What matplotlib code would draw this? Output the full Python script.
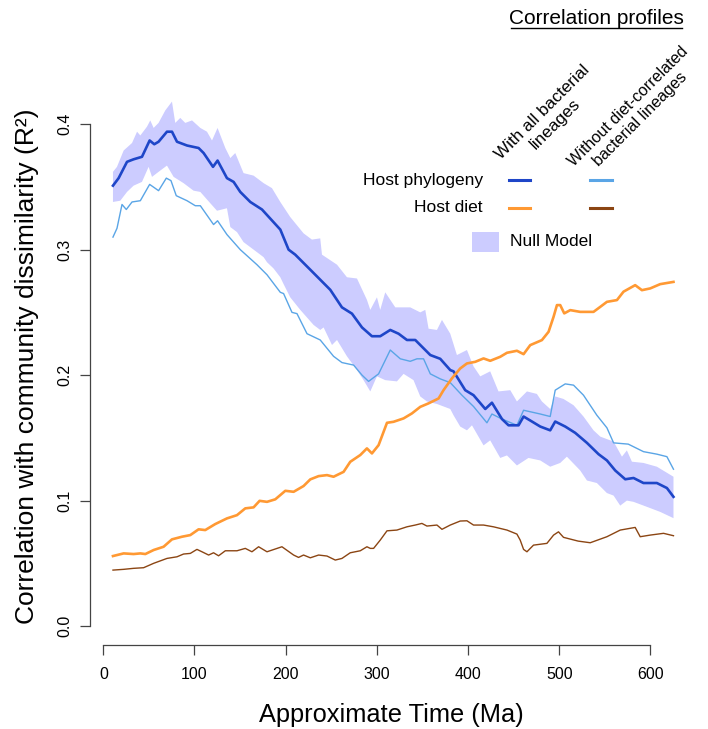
import numpy as np
import matplotlib
matplotlib.use("Agg")
import matplotlib.pyplot as plt
from matplotlib.lines import Line2D
from matplotlib.patches import Rectangle

plt.rcParams['font.family'] = ['Liberation Sans', 'DejaVu Sans']

# --- data (time in Ma, R^2) ---
t_phylo_all = [10.6, 16.8, 26.0, 33.2, 42.4, 50.8, 55.9, 60.6, 69.8, 75.3, 80.8, 91.8, 104.5, 110.0,
               120.3, 125.3, 135.6, 142.9, 150.2, 161.2, 174.0, 194.1, 203.2, 210.5, 227.0, 248.9,
               261.7, 272.7, 283.7, 294.6, 303.7, 314.7, 323.8, 333.0, 342.1, 358.6, 369.5, 380.5,
               384.1, 396.9, 406.0, 418.9, 426.2, 437.2, 444.4, 455.4, 460.9, 470.1, 479.2, 490.1,
               495.6, 506.6, 517.5, 530.4, 543.1, 552.3, 561.4, 572.4, 581.5, 592.4, 607.1, 618.1, 625.3]
phylo_all = [0.351, 0.357, 0.370, 0.372, 0.374, 0.387, 0.384, 0.386, 0.394, 0.394, 0.386, 0.383, 0.381,
             0.377, 0.366, 0.371, 0.357, 0.354, 0.346, 0.338, 0.332, 0.316, 0.300, 0.296, 0.284, 0.268,
             0.254, 0.249, 0.238, 0.231, 0.231, 0.236, 0.233, 0.228, 0.228, 0.216, 0.213, 0.204, 0.203,
             0.188, 0.184, 0.173, 0.178, 0.165, 0.160, 0.160, 0.167, 0.163, 0.159, 0.156, 0.163, 0.159,
             0.154, 0.146, 0.137, 0.132, 0.124, 0.117, 0.118, 0.114, 0.114, 0.110, 0.103]

t_phylo_nodiet = [10.6, 15.0, 20.5, 25.2, 31.5, 40.6, 50.8, 60.6, 69.1, 74.2, 80.0, 91.8, 100.9, 106.4,
                  120.9, 125.3, 135.6, 150.2, 168.5, 179.5, 194.1, 197.7, 206.9, 212.4, 223.4, 237.9,
                  252.5, 261.7, 274.5, 283.7, 290.9, 301.9, 314.7, 325.7, 336.6, 344.0, 351.2, 358.6,
                  369.5, 380.5, 393.3, 406.0, 420.7, 426.2, 437.2, 453.6, 460.9, 479.2, 490.1, 495.6,
                  506.6, 515.7, 526.6, 541.3, 552.3, 559.6, 575.7, 592.4, 607.1, 618.1, 625.3]
phylo_nodiet = [0.310, 0.317, 0.336, 0.332, 0.338, 0.339, 0.352, 0.347, 0.357, 0.355, 0.343, 0.339, 0.335,
                0.335, 0.320, 0.323, 0.312, 0.300, 0.288, 0.280, 0.266, 0.265, 0.250, 0.249, 0.233, 0.228,
                0.215, 0.210, 0.208, 0.200, 0.195, 0.201, 0.220, 0.213, 0.211, 0.213, 0.213, 0.201, 0.197,
                0.194, 0.184, 0.175, 0.162, 0.169, 0.165, 0.160, 0.172, 0.169, 0.167, 0.188, 0.193, 0.192,
                0.184, 0.168, 0.158, 0.146, 0.145, 0.139, 0.137, 0.135, 0.125]

t_null_hi = [10.6, 15.0, 22.3, 31.5, 37.0, 40.6, 47.9, 51.5, 55.2, 60.6, 68.0, 75.3, 78.9, 84.4, 89.9,
             97.3, 106.4, 113.7, 119.2, 125.3, 133.8, 139.3, 144.7, 153.8, 164.8, 175.8, 185.0, 194.1,
             205.0, 219.6, 228.8, 237.9, 239.8, 256.3, 267.2, 278.2, 289.1, 292.8, 300.1, 303.7, 309.2,
             320.2, 336.6, 347.6, 353.1, 356.7, 365.9, 371.4, 380.5, 387.8, 398.8, 406.0, 413.4, 424.3,
             433.4, 446.3, 453.6, 464.6, 475.5, 481.0, 490.1, 495.6, 504.7, 515.7, 526.6, 537.6, 545.0,
             559.6, 568.8, 574.2, 579.7, 592.4, 607.1, 625.3]
null_hi = [0.362, 0.366, 0.379, 0.385, 0.394, 0.391, 0.398, 0.403, 0.397, 0.401, 0.411, 0.418, 0.401,
           0.405, 0.401, 0.403, 0.397, 0.394, 0.387, 0.397, 0.381, 0.373, 0.377, 0.361, 0.359, 0.353,
           0.349, 0.338, 0.326, 0.313, 0.308, 0.309, 0.296, 0.288, 0.278, 0.277, 0.260, 0.252, 0.262,
           0.252, 0.266, 0.254, 0.254, 0.250, 0.252, 0.237, 0.236, 0.244, 0.233, 0.216, 0.220, 0.207,
           0.199, 0.203, 0.187, 0.188, 0.179, 0.187, 0.185, 0.179, 0.173, 0.183, 0.181, 0.176, 0.167,
           0.156, 0.151, 0.147, 0.135, 0.140, 0.131, 0.130, 0.127, 0.119]

t_null_lo = [10.6, 18.6, 26.0, 33.2, 42.4, 49.7, 53.4, 60.6, 69.8, 77.1, 88.0, 99.0, 106.4, 117.3, 124.7,
             135.6, 139.3, 146.6, 153.8, 168.5, 175.8, 179.5, 186.7, 194.1, 197.4, 205.0, 216.0, 230.6,
             237.9, 241.6, 250.8, 256.3, 267.2, 278.2, 285.4, 292.8, 300.1, 309.2, 322.0, 329.3, 340.2,
             347.6, 354.9, 365.9, 380.5, 384.1, 391.4, 398.8, 404.3, 417.0, 424.3, 435.3, 442.7, 453.6,
             466.3, 479.2, 490.1, 501.1, 508.4, 523.0, 530.4, 541.3, 552.3, 559.6, 566.9, 574.2, 581.5,
             596.2, 610.7, 625.3]
null_lo = [0.338, 0.339, 0.346, 0.351, 0.354, 0.366, 0.358, 0.362, 0.367, 0.358, 0.353, 0.347, 0.346,
           0.337, 0.331, 0.333, 0.318, 0.314, 0.306, 0.298, 0.294, 0.290, 0.285, 0.278, 0.273, 0.262,
           0.252, 0.240, 0.236, 0.238, 0.224, 0.228, 0.215, 0.204, 0.196, 0.187, 0.199, 0.196, 0.195,
           0.201, 0.196, 0.183, 0.179, 0.177, 0.173, 0.168, 0.159, 0.156, 0.160, 0.144, 0.148, 0.134,
           0.136, 0.128, 0.134, 0.132, 0.127, 0.130, 0.135, 0.124, 0.116, 0.114, 0.106, 0.104, 0.096,
           0.100, 0.099, 0.095, 0.091, 0.086]

t_diet_all = [10.6, 22.3, 33.2, 40.6, 46.1, 55.2, 66.1, 75.3, 86.3, 95.4, 104.5, 111.8, 122.8, 135.6,
              146.6, 155.7, 164.8, 171.4, 179.5, 188.6, 199.6, 208.7, 219.6, 227.0, 236.1, 245.3, 252.5,
              263.5, 270.8, 281.8, 289.1, 294.6, 301.9, 311.1, 318.3, 329.3, 338.5, 347.6, 356.7, 367.7,
              373.1, 382.3, 391.4, 398.8, 407.9, 417.0, 424.3, 435.3, 442.7, 453.6, 460.9, 468.2, 481.0,
              488.3, 493.8, 497.5, 501.1, 505.5, 512.1, 523.0, 537.6, 545.0, 552.3, 563.3, 570.5, 583.3,
              590.7, 599.8, 610.7, 625.3]
diet_all = [0.0558, 0.0579, 0.0574, 0.0579, 0.0574, 0.0606, 0.0632, 0.0691, 0.0712, 0.0725, 0.0771,
            0.0765, 0.0813, 0.0858, 0.0884, 0.0938, 0.0946, 0.0998, 0.0990, 0.1010, 0.1078, 0.1070,
            0.1116, 0.1169, 0.1195, 0.1203, 0.1190, 0.1229, 0.1309, 0.1363, 0.1416, 0.1376, 0.1442,
            0.1620, 0.1628, 0.1655, 0.1695, 0.1747, 0.1775, 0.1814, 0.1880, 0.1974, 0.2053, 0.2093,
            0.2106, 0.2133, 0.2114, 0.2146, 0.2178, 0.2194, 0.2167, 0.2239, 0.2279, 0.2345, 0.2465,
            0.2558, 0.2558, 0.2492, 0.2518, 0.2504, 0.2504, 0.2544, 0.2584, 0.2598, 0.2665, 0.2717,
            0.2677, 0.2691, 0.2725, 0.2743]

t_diet_nodiet = [10.6, 22.3, 33.2, 44.2, 55.2, 69.8, 80.8, 88.0, 95.4, 102.7, 108.2, 115.5, 120.9, 126.4,
                 133.8, 146.6, 155.7, 163.0, 170.3, 179.5, 195.9, 208.7, 214.1, 219.6, 227.0, 236.1,
                 245.3, 254.4, 261.7, 270.8, 281.8, 289.1, 292.8, 296.4, 303.7, 311.1, 322.0, 333.0,
                 342.1, 349.4, 354.9, 365.9, 371.4, 380.5, 391.4, 398.8, 406.0, 417.0, 427.9, 442.7,
                 453.6, 457.2, 460.9, 464.6, 471.8, 486.5, 493.8, 499.2, 504.7, 520.8, 534.0, 552.3,
                 566.9, 583.3, 588.8, 599.8, 614.4, 625.3]
diet_nodiet = [0.0446, 0.0452, 0.0460, 0.0465, 0.0500, 0.0539, 0.0552, 0.0574, 0.0579, 0.0611, 0.0592,
               0.0566, 0.0584, 0.0560, 0.0600, 0.0600, 0.0619, 0.0592, 0.0632, 0.0592, 0.0632, 0.0566,
               0.0547, 0.0566, 0.0544, 0.0566, 0.0558, 0.0526, 0.0539, 0.0584, 0.0600, 0.0632, 0.0619,
               0.0619, 0.0685, 0.0759, 0.0765, 0.0791, 0.0805, 0.0818, 0.0797, 0.0805, 0.0771, 0.0805,
               0.0837, 0.0839, 0.0805, 0.0805, 0.0791, 0.0765, 0.0733, 0.0685, 0.0611, 0.0592, 0.0645,
               0.0659, 0.0725, 0.0751, 0.0707, 0.0677, 0.0664, 0.0712, 0.0765, 0.0786, 0.0712, 0.0725,
               0.0739, 0.0720]

x_ticks = [0, 100, 200, 300, 400, 500, 600]
y_ticks = [0.0, 0.1, 0.2, 0.3, 0.4]

col_band = '#CCCCFF'
col_phylo = '#1E46C8'
col_phylo2 = '#5AA5E6'
col_diet = '#FF9933'
col_diet2 = '#8B4513'

W, H = 708, 729
fig = plt.figure(figsize=(W / 100, H / 100), dpi=100)
ax = fig.add_axes([90 / W, 1 - 645 / H, (696 - 90) / W, (645 - 78) / H])

band_x = np.concatenate([t_null_hi, t_null_lo[::-1]])
band_y = np.concatenate([null_hi, null_lo[::-1]])
ax.fill(band_x, band_y, color=col_band, lw=0)
ax.plot(t_phylo_nodiet, phylo_nodiet, color=col_phylo2, lw=1.0)
ax.plot(t_phylo_all, phylo_all, color=col_phylo, lw=1.9)
ax.plot(t_diet_all, diet_all, color=col_diet, lw=1.9)
ax.plot(t_diet_nodiet, diet_nodiet, color=col_diet2, lw=1.0)

ax.set_xlim(-14.6, 650)
ax.set_ylim(-0.0151, 0.4368)
for s in ['top', 'right']:
    ax.spines[s].set_visible(False)
ax.spines['left'].set_bounds(0, 0.4)
ax.spines['bottom'].set_bounds(0, 600)
for s in ['left', 'bottom']:
    ax.spines[s].set_color('#444444')
    ax.spines[s].set_linewidth(0.9)
ax.set_xticks(x_ticks)
ax.set_xticklabels([str(v) for v in x_ticks])
ax.set_yticks(y_ticks)
ax.set_yticklabels(['%.1f' % v for v in y_ticks], rotation=90, va='center')
ax.tick_params(length=7.5, width=0.9, color='#444444', labelsize=11.5)
ax.tick_params(axis='x', pad=8)
ax.tick_params(axis='y', pad=5)

fig.text(27 / W, 1 - 366 / H, 'Correlation with community dissimilarity (R²)',
         rotation=90, ha='center', va='center', fontsize=19)
fig.text(391 / W, 1 - 715 / H, 'Approximate Time (Ma)', ha='center', va='center', fontsize=18.3)

# legend block
fig.text(596 / W, 1 - 18 / H, 'Correlation profiles', ha='center', va='center', fontsize=15)
fig.add_artist(Line2D([511 / W, 682 / W], [1 - 28 / H, 1 - 28 / H], color='black', lw=1))
fig.text(549 / W, 1 - 118 / H, 'With all bacterial\nlineages', rotation=45,
         rotation_mode='anchor', ha='center', va='center', multialignment='center', fontsize=12.3)
fig.text(634 / W, 1 - 113 / H, 'Without diet-correlated\nbacterial lineages', rotation=45,
         rotation_mode='anchor', ha='center', va='center', multialignment='center', fontsize=11.6)
fig.text(483 / W, 1 - 180 / H, 'Host phylogeny', ha='right', va='center', fontsize=12.5)
fig.text(483 / W, 1 - 208 / H, 'Host diet', ha='right', va='center', fontsize=12.5)
for yy, c1, c2 in [(180, col_phylo, col_phylo2), (208, col_diet, col_diet2)]:
    fig.add_artist(Line2D([509 / W, 530 / W], [1 - yy / H] * 2, color=c1, lw=2.2))
    fig.add_artist(Line2D([590 / W, 612 / W], [1 - yy / H] * 2, color=c2, lw=2.2))
fig.add_artist(Rectangle((472 / W, 1 - 252 / H), 27 / W, 20 / H, color=col_band, lw=0))
fig.text(510 / W, 1 - 241 / H, 'Null Model', ha='left', va='center', fontsize=12.5)

fig.savefig('out.png', dpi=100)
